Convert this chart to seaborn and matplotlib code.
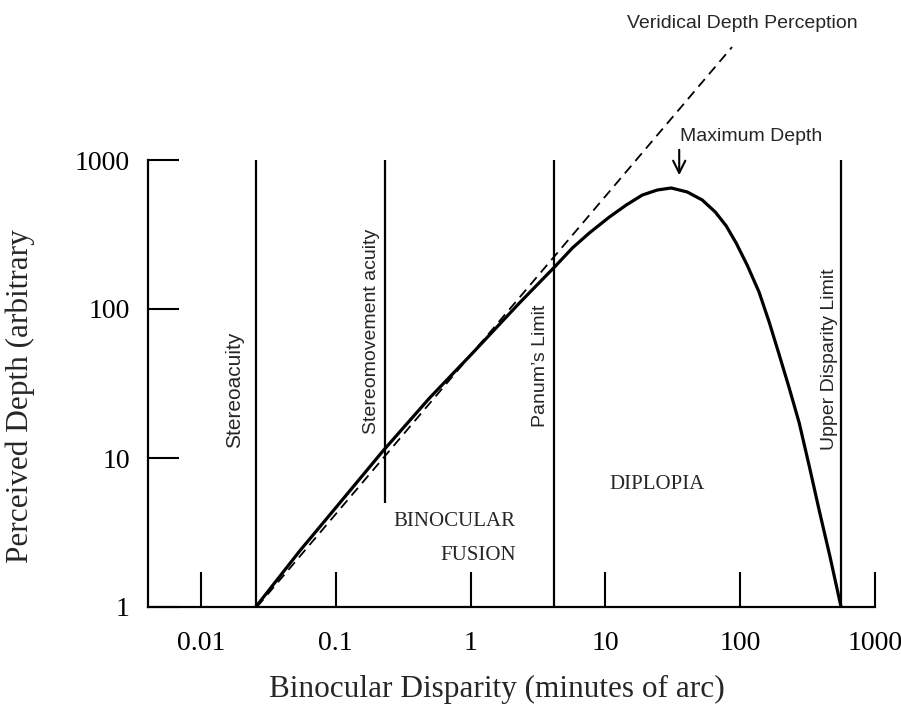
import matplotlib
matplotlib.use("Agg")
import matplotlib.pyplot as plt
import numpy as np
import seaborn as sns

sns.set_style("white")
plt.rcParams['font.family'] = ['Liberation Serif', 'DejaVu Serif']

# perceived depth curve (minutes of arc, arbitrary units)
disparity = [0.0255, 0.0541, 0.107, 0.223, 0.497, 1.02, 2.31, 4.19, 5.70,
             7.61, 10.7, 14.3, 18.8, 24.3, 30.8, 40.5, 52.3, 65.3, 78.8,
             93.4, 112.7, 138, 164, 194, 231, 274, 324, 385, 464, 560]
depth = [1.0, 2.38, 4.99, 11.1, 25.3, 49.9, 110, 191, 257,
         324, 414, 499, 582, 629, 649, 610, 539, 448, 361,
         277, 197, 130, 81.8, 49.9, 29.5, 17.2, 8.97, 4.48, 2.17, 1.0]

# veridical (dashed) line end points
veridical_x = [0.026, 87]
veridical_y = [1.0, 5730]

# limit lines
limit_x = [0.0255, 0.23, 4.19, 560]
limit_bottom = [1, 5, 1, 1]
limit_top = 1000
limit_names = ["Stereoacuity", "Stereomovement acuity", "Panum\u2019s Limit",
               "Upper Disparity Limit"]

x_ticks = [0.01, 0.1, 1, 10, 100, 1000]
x_ticklabels = ["0.01", "0.1", "1", "10", "100", "1000"]
y_ticks = [1, 10, 100, 1000]
y_ticklabels = ["1", "10", "100", "1000"]

fig = plt.figure(figsize=(9.01, 7.07), dpi=100)
ax = fig.add_axes([148 / 901, 100 / 707, 727 / 901, 607 / 707])
ax.set_xscale("log")
ax.set_yscale("log")
ax.set_xlim(0.00405, 1000)
ax.set_ylim(1, 10 ** (607 / 149))

sns.lineplot(x=veridical_x, y=veridical_y, ax=ax, color="black", lw=1.3,
             linestyle=(0, (5.5, 3.5)), sort=False)
sns.lineplot(x=disparity, y=depth, ax=ax, color="black", lw=2.3, sort=False)
ax.vlines(limit_x, limit_bottom, limit_top, color="black", lw=1.6)

# spines / ticks
for side in ["top", "right"]:
    ax.spines[side].set_visible(False)
ax.spines["left"].set_bounds(1, 1000)
ax.spines["bottom"].set_bounds(0.00405, 1000)
for side in ["left", "bottom"]:
    ax.spines[side].set_linewidth(1.6)
    ax.spines[side].set_color("black")
ax.set_xticks(x_ticks)
ax.set_xticklabels(x_ticklabels)
ax.set_yticks(y_ticks)
ax.set_yticklabels(y_ticklabels)
ax.minorticks_off()
ax.tick_params(axis="x", bottom=True, direction="in", length=25, width=1.5,
               pad=17, labelsize=20, colors="black")
ax.tick_params(axis="y", left=True, direction="in", length=22, width=1.5,
               pad=13, labelsize=20, colors="black")

ax.set_xlabel("Binocular Disparity (minutes of arc)", fontsize=22.5)
ax.set_ylabel("Perceived Depth (arbitrary", fontsize=22.5)
ax.xaxis.set_label_coords(0.48, -0.112)
ax.yaxis.set_label_coords(-0.155, 0.3476)

sans = dict(family=["Liberation Sans", "DejaVu Sans"], fontsize=14)
ax.text(0.0179, 28.6, limit_names[0], rotation=90, ha="center", va="center",
        family=["Liberation Sans", "DejaVu Sans"], fontsize=15)
ax.text(0.185, 71.2, limit_names[1], rotation=90, ha="center", va="center", **sans)
ax.text(3.30, 41.4, limit_names[2], rotation=90, ha="center", va="center", **sans)
ax.text(456, 46.2, limit_names[3], rotation=90, ha="center", va="center", **sans)
ax.text(120.5, 1449, "Maximum Depth", ha="center", va="center", **sans)
ax.text(103.5, 8180, "Veridical Depth Perception", ha="center", va="center",
        clip_on=False, **sans)
ax.annotate("", xy=(35.3, 757), xytext=(35.3, 1222),
            arrowprops=dict(arrowstyle="->", color="black", lw=1.5,
                            mutation_scale=22))

ax.text(0.76, 3.72, "BINOCULAR", ha="center", va="center", fontsize=15)
ax.text(1.13, 2.23, "FUSION", ha="center", va="center", fontsize=15)
ax.text(24.3, 6.59, "DIPLOPIA", ha="center", va="center", fontsize=15)

fig.savefig("out.png", dpi=100)
